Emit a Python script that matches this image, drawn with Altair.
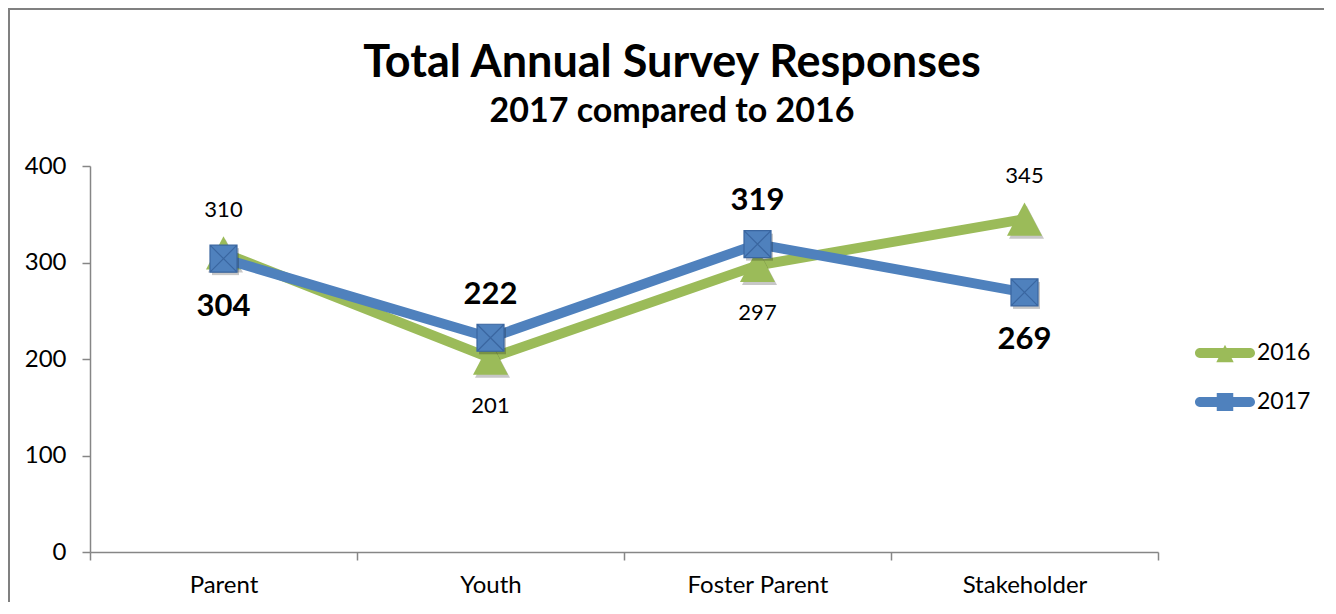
import altair as alt
import pandas as pd

categories = ["Parent", "Youth", "Foster Parent", "Stakeholder"]
series = ["2016", "2017"]
values_2016 = [310, 201, 297, 345]
values_2017 = [304, 222, 319, 269]
label_pos_2016 = ["above", "below", "below", "above"]
label_pos_2017 = ["below", "above", "above", "below"]
y_ticks = [0, 100, 200, 300, 400]
title_text = "Total Annual Survey Responses"
subtitle_text = "2017 compared to 2016"

GREEN = "#9BBB59"
BLUE = "#4F81BD"
DARK_BLUE = "#3A66A0"
AXIS_GRAY = "#868686"
FONT = "Lato"

rows = []
for s, vals, pos in ((series[0], values_2016, label_pos_2016),
                     (series[1], values_2017, label_pos_2017)):
    for c, v, p in zip(categories, vals, pos):
        rows.append({"category": c, "series": s, "value": v, "pos": p})
df = pd.DataFrame(rows)

W, H = 1068, 386
PAD = {"left": 82, "top": 158, "right": 166, "bottom": 50}

x_enc = alt.X(
    "category:N", sort=categories,
    scale=alt.Scale(type="band", paddingInner=0, paddingOuter=0),
    axis=alt.Axis(title=None, labelAngle=0, tickBand="extent", labelFontSize=24,
                  labelColor="black", labelPadding=13, tickSize=8,
                  domainColor=AXIS_GRAY, tickColor=AXIS_GRAY, domainWidth=1.5,
                  tickWidth=1.5, labelFont=FONT),
)
y_enc = alt.Y(
    "value:Q",
    scale=alt.Scale(domain=[0, 400], nice=False),
    axis=alt.Axis(title=None, values=y_ticks, grid=False, labelFontSize=24,
                  labelColor="black", labelPadding=16, tickSize=8,
                  domainColor=AXIS_GRAY, tickColor=AXIS_GRAY, domainWidth=1.5,
                  tickWidth=1.5, labelFont=FONT),
)

LINE_PART = "M-1.67,-0.33L1.67,-0.33A0.33,0.33,0,0,1,1.67,0.33L-1.67,0.33A0.33,0.33,0,0,1,-1.67,-0.33Z"
LEG_TRI = LINE_PART + "M0,-0.55L0.58,0.62L-0.58,0.62Z"
LEG_SQ = LINE_PART + "M-0.55,-0.6L0.55,-0.6L0.55,0.6L-0.55,0.6Z"


def make_legend(sym, ly):
    return alt.Legend(
        title=None, orient="none", legendX=1120, legendY=ly, padding=0,
        symbolSize=900, symbolType=sym, labelOffset=17, labelFontSize=23,
        labelFont=FONT, labelColor="black", symbolStrokeWidth=0, symbolOpacity=1,
    )


base = alt.Chart(df)
f16 = "datum.series == '2016'"
f17 = "datum.series == '2017'"

line16 = base.transform_filter(f16).mark_line(
    strokeWidth=10, strokeCap="round", strokeJoin="round", color=GREEN
).encode(x=x_enc, y=y_enc)
line17 = base.transform_filter(f17).mark_line(
    strokeWidth=10, strokeCap="round", strokeJoin="round", color=BLUE
).encode(x=x_enc, y=y_enc)

TRI = "M0,-0.95L1,0.95L-1,0.95Z"
tri_shadow = base.transform_filter(f16).mark_point(
    shape=TRI, size=1225, filled=True, color="black", opacity=0.22,
    xOffset=2, yOffset=3).encode(x=x_enc, y=y_enc)
tris = base.transform_filter(f16).mark_point(
    shape=TRI, size=1225, filled=True, opacity=1).encode(
    x=x_enc, y=y_enc,
    fill=alt.Fill("series:N", scale=alt.Scale(domain=[series[0]], range=[GREEN]),
                  legend=make_legend(LEG_TRI, 172)),
)

sq_shadow = base.transform_filter(f17).mark_point(
    shape="square", size=729, filled=True, color="black", opacity=0.22,
    xOffset=2, yOffset=3).encode(x=x_enc, y=y_enc)
sqs = base.transform_filter(f17).mark_point(
    shape="square", size=729, filled=True, opacity=1).encode(
    x=x_enc, y=y_enc,
    color=alt.Color("series:N", scale=alt.Scale(domain=[series[1]], range=[BLUE]),
                    legend=make_legend(LEG_SQ, 221)),
)
xs = base.transform_filter(f17).mark_point(
    shape="M-1,-1L1,-1L1,1L-1,1ZM-1,-1L1,1M-1,1L1,-1", size=729, filled=False,
    stroke=DARK_BLUE, strokeWidth=1.2, opacity=1).encode(x=x_enc, y=y_enc)


def labels(s, p, bold):
    dy = -43 if p == "above" else 48
    return base.transform_filter(
        f"datum.series == '{s}' && datum.pos == '{p}'"
    ).mark_text(
        dy=dy, fontSize=31 if bold else 22, fontWeight="bold" if bold else "normal",
        color="black", font=FONT, baseline="middle", align="center",
    ).encode(x=x_enc, y=y_enc, text="value:Q")


lab = [labels("2016", "above", False), labels("2016", "below", False),
       labels("2017", "above", True), labels("2017", "below", True)]

title = alt.Chart(pd.DataFrame({"t": [title_text]})).mark_text(
    fontSize=45, fontWeight="bold", font=FONT, align="center", baseline="alphabetic",
    color="black").encode(text="t:N", x=alt.value(582), y=alt.value(-89))
subtitle = alt.Chart(pd.DataFrame({"t": [subtitle_text]})).mark_text(
    fontSize=34, fontWeight="bold", font=FONT, align="center", baseline="alphabetic",
    color="black").encode(text="t:N", x=alt.value(582), y=alt.value(-44))

frame_df = pd.DataFrame({"a": [0]})
frame_top = alt.Chart(frame_df).mark_rule(color="#808080", strokeWidth=2).encode(
    x=alt.value(-82), x2=alt.value(W + PAD["right"]), y=alt.value(-157))
frame_left = alt.Chart(frame_df).mark_rule(color="#808080", strokeWidth=2).encode(
    x=alt.value(-81), y=alt.value(-158), y2=alt.value(H + PAD["bottom"]))

chart = alt.layer(
    frame_top, frame_left, title, subtitle,
    line16, tri_shadow, tris, line17, sq_shadow, sqs, xs, *lab,
).resolve_scale(color="independent", fill="independent").properties(
    width=W, height=H, padding=PAD,
    autosize=alt.AutoSizeParams(type="none"),
).configure(font=FONT).configure_view(stroke="transparent")

chart.save("out.html", embed_options={"renderer": "svg", "actions": False})
